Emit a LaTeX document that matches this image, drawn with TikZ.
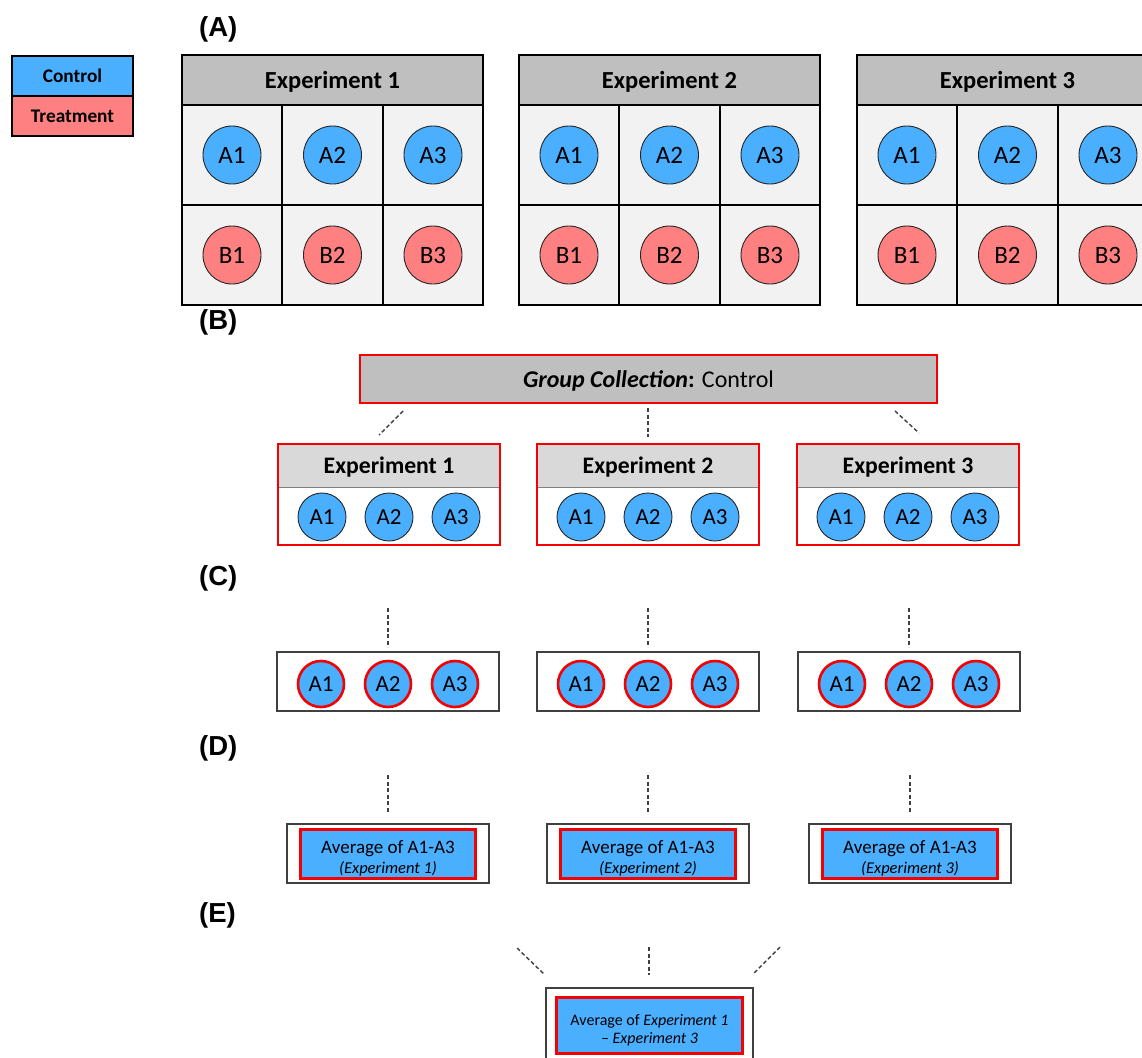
\documentclass[tikz,border=0pt]{standalone}
\usepackage{fontspec}
\setmainfont{Carlito}
\newfontfamily\labfont{Liberation Sans}
\definecolor{cblue}{RGB}{75,175,255}
\definecolor{cpink}{RGB}{255,128,128}
\definecolor{hgray}{RGB}{191,191,191}
\definecolor{lgray}{RGB}{217,217,217}
\definecolor{cellg}{RGB}{242,242,242}
\definecolor{cred}{RGB}{245,0,0}
\definecolor{dgray}{RGB}{64,64,64}
\newcommand\fsz[1]{\fontsize{#1}{#1}\selectfont}
\begin{document}
\begin{tikzpicture}[x=1pt,y=-1pt,
 lab/.style={anchor=west, font=\labfont\bfseries\fsz{27.5}, inner sep=0},
 legbox/.style={draw=black, line width=1.2pt, minimum width=121pt, minimum height=40pt, inner sep=0, font=\bfseries\fsz{19.3}, text depth=0pt},
 hdrA/.style={draw=black, fill=hgray, line width=1.2pt, minimum width=301pt, minimum height=50pt, inner sep=0, font=\bfseries\fsz{24.5}, text depth=0pt},
 cellA/.style={draw=black, fill=cellg, line width=1.2pt, minimum width=100pt, minimum height=100pt, inner sep=0},
 wellA/.style={circle, draw=black!85, line width=0.9pt, minimum size=58pt, inner sep=0, font=\fsz{25}},
 gcbox/.style={draw=cred, fill=hgray, line width=1.3pt, minimum width=577pt, minimum height=48pt, inner sep=0, font=\fsz{24}, text depth=0pt},
 hdrB/.style={fill=lgray, minimum width=222pt, minimum height=43pt, inner sep=0, font=\bfseries\fsz{23.7}, text depth=0pt},
 frameB/.style={draw=cred, line width=1.3pt, minimum width=222pt, minimum height=101pt, inner sep=0},
 wellB/.style={circle, fill=cblue, draw=black!85, line width=0.9pt, minimum size=48pt, inner sep=0, font=\fsz{23}},
 boxC/.style={draw=dgray, fill=white, line width=1.3pt, minimum width=222pt, minimum height=59pt, inner sep=0},
 wellC/.style={circle, fill=cblue, draw=cred, line width=2.6pt, minimum size=46pt, inner sep=0, font=\fsz{23}},
 boxD/.style={draw=dgray, fill=white, line width=1.3pt, minimum width=202pt, minimum height=59pt, inner sep=0},
 avgbox/.style={draw=cred, fill=cblue, line width=3pt, minimum width=175pt, minimum height=49pt, inner sep=0},
 avgtxt/.style={align=center, inner sep=0, font=\fontsize{19}{20}\selectfont},
 conn/.style={draw=black!75, line width=1.4pt, dash pattern=on 4pt off 2.5pt}
]
\useasboundingbox (0,0) rectangle (1142,1057);
\clip (0,0) rectangle (1142,1057);
\fill[white] (0,0) rectangle (1142,1057);

% legend
\node[legbox, fill=cblue] (legC) at (72.5,76) {Control};
\node[legbox, fill=cpink] (legT) at (72.5,116) {Treatment};

% section labels
\node[lab] (labA) at (199,29) {(A)};
\node[lab] (labB) at (199,322) {(B)};
\node[lab] (labC) at (199,578) {(C)};
\node[lab] (labD) at (199,748) {(D)};
\node[lab] (labE) at (199,915) {(E)};

% (A) plate layouts
\foreach \i/\L in {1/182,2/519,3/857} {
  \node[hdrA] (hA\i) at (\L+150.5,80) {Experiment \i};
  \foreach \c in {1,2,3} {
    \node[cellA] (cA\i-\c) at (\L+50+100.5*\c-100.5,155) {};
    \node[cellA] (cB\i-\c) at (\L+50+100.5*\c-100.5,255) {};
    \node[wellA, fill=cblue] (wA\i-\c) at (cA\i-\c.center) {A\c};
    \node[wellA, fill=cpink] (wB\i-\c) at (cB\i-\c.center) {B\c};
  }
}

% (B) group collection
\node[gcbox] (gc) at (648.5,379) {\textbf{\textit{Group Collection}:} Control};
\foreach \i/\X in {1/389,2/648,3/908} {
  \node[hdrB] (hB\i) at (\X,465.5) {Experiment \i};
  \draw[gray, line width=1pt] (hB\i.south west) -- (hB\i.south east);
  \node[frameB] (fB\i) at (\X,494.5) {};
  \foreach \c in {1,2,3} {
    \node[wellB] (wBB\i-\c) at (\X+67*\c-134,517) {A\c};
  }
}
\coordinate (b1s) at (403,411); \coordinate (b1e) at (379,435);
\coordinate (b2s) at (648,408); \coordinate (b2e) at (648,437);
\coordinate (b3s) at (895,411); \coordinate (b3e) at (919,433);
\draw[conn] (b1s) -- (b1e);
\draw[conn] (b2s) -- (b2e);
\draw[conn] (b3s) -- (b3e);

% (C)
\foreach \i/\X in {1/388,2/648,3/909} {
  \coordinate (c\i s) at (\X,608);
  \coordinate (c\i e) at (\X,647);
  \draw[conn] (c\i s) -- (c\i e);
  \node[boxC] (bC\i) at (\X,681.5) {};
  \foreach \c in {1,2,3} {
    \node[wellC] (wC\i-\c) at (\X+67*\c-134,684) {A\c};
  }
}

% (D)
\foreach \i/\X in {1/388,2/648,3/910} {
  \coordinate (d\i s) at (\X,775);
  \coordinate (d\i e) at (\X,812);
  \draw[conn] (d\i s) -- (d\i e);
  \node[boxD] (oD\i) at (\X,853.5) {};
  \node[avgbox] (iD\i) at (\X,853.5) {};
  \node[avgtxt] (tD\i) at ([yshift=-4.5pt]iD\i.center) {Average of A1-A3\\{\fontsize{16.5}{20}\selectfont\itshape (Experiment \i)}};
}

% (E)
\coordinate (e1s) at (517,948); \coordinate (e1e) at (545,975);
\coordinate (e2s) at (649,947); \coordinate (e2e) at (649,975);
\coordinate (e3s) at (780,947); \coordinate (e3e) at (753,974);
\draw[conn] (e1s) -- (e1e);
\draw[conn] (e2s) -- (e2e);
\draw[conn] (e3s) -- (e3e);
\node[boxD, minimum width=207pt, minimum height=74pt] (oE) at (649.5,1025) {};
\node[avgbox, minimum width=186pt, minimum height=56pt] (iE) at (649.5,1025) {};
\node[avgtxt, font=\fontsize{16}{18}\selectfont] (tE) at ([yshift=-5pt]iE.center) {Average of \textit{Experiment 1}\\\textit{– Experiment 3}};
\end{tikzpicture}
\end{document}
